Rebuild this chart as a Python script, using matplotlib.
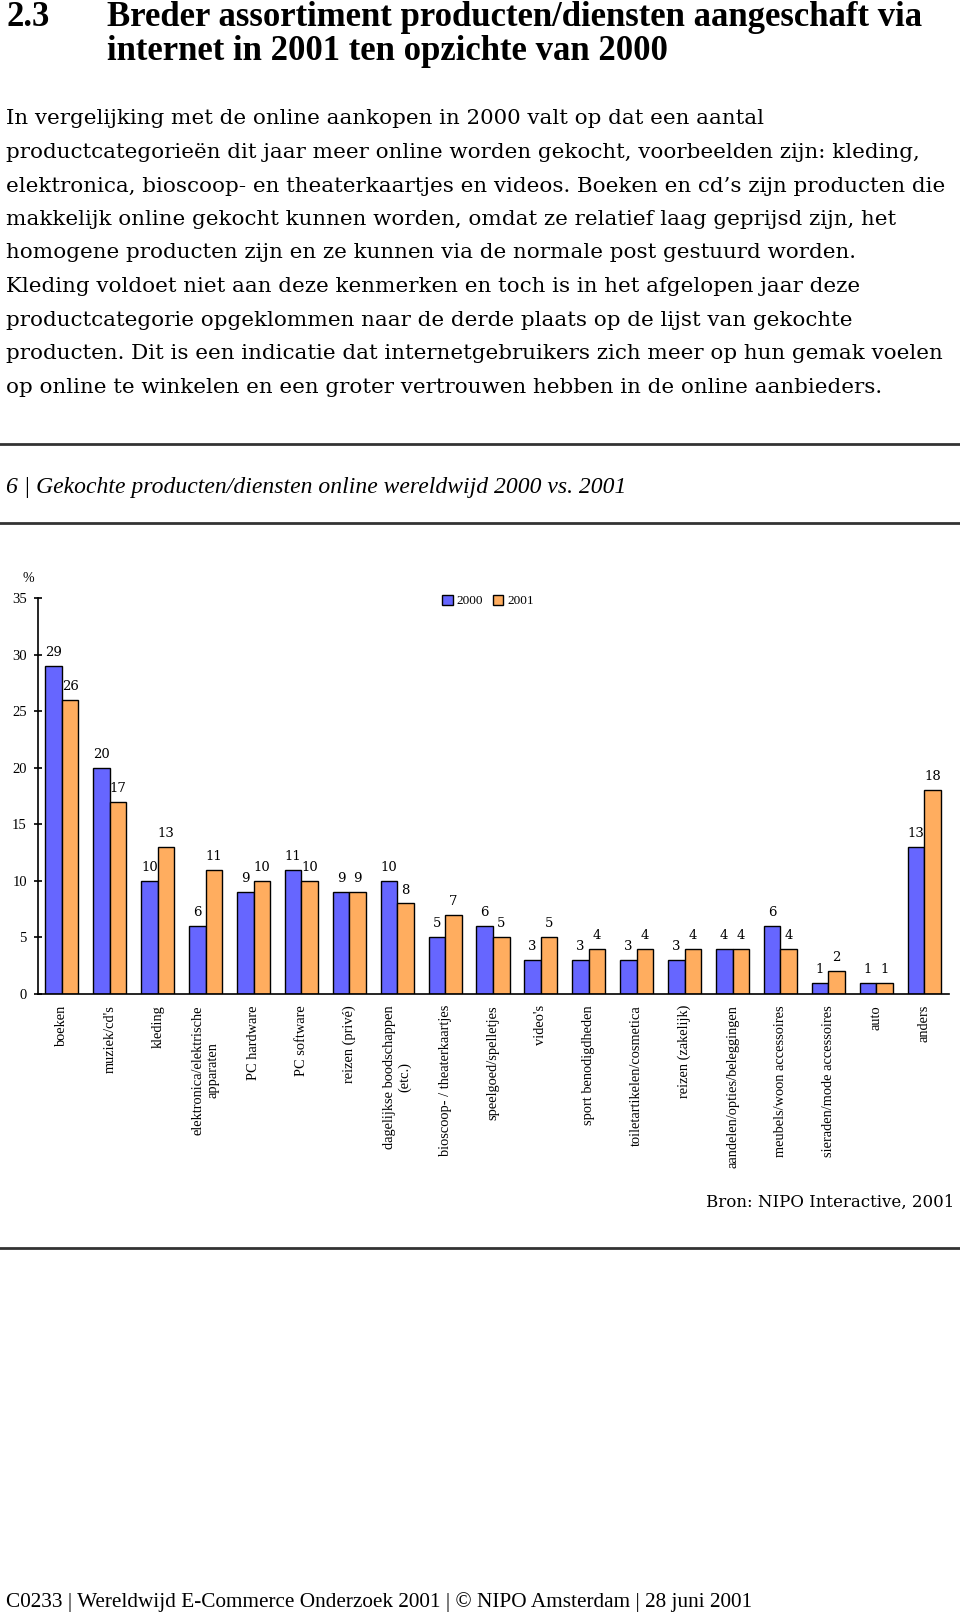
import matplotlib
matplotlib.use('Agg')
import matplotlib.pyplot as plt
from matplotlib.lines import Line2D
import numpy as np

# data
categories = ['boeken', 'muziek/cd\'s', 'kleding', 'elektronica/elektrische\napparaten',
              'PC hardware', 'PC software', 'reizen (privé)', 'dagelijkse boodschappen\n(etc.)',
              'bioscoop- / theaterkaartjes', 'speelgoed/spelletjes', "video's",
              'sport benodigdheden', 'toiletartikelen/cosmetica', 'reizen (zakelijk)',
              'aandelen/opties/beleggingen', 'meubels/woon accessoires',
              'sieraden/mode accessoires', 'auto', 'anders']
vals_2000 = [29, 20, 10, 6, 9, 11, 9, 10, 5, 6, 3, 3, 3, 3, 4, 6, 1, 1, 13]
vals_2001 = [26, 17, 13, 11, 10, 10, 9, 8, 7, 5, 5, 4, 4, 4, 4, 4, 2, 1, 18]
series_names = ['2000', '2001']
yticks = [0, 5, 10, 15, 20, 25, 30, 35]

title_lines = ['Breder assortiment producten/diensten aangeschaft via',
               'internet in 2001 ten opzichte van 2000']
body_lines = [
    'In vergelijking met de online aankopen in 2000 valt op dat een aantal',
    'productcategorieën dit jaar meer online worden gekocht, voorbeelden zijn: kleding,',
    'elektronica, bioscoop- en theaterkaartjes en videos. Boeken en cd\u2019s zijn producten die',
    'makkelijk online gekocht kunnen worden, omdat ze relatief laag geprijsd zijn, het',
    'homogene producten zijn en ze kunnen via de normale post gestuurd worden.',
    'Kleding voldoet niet aan deze kenmerken en toch is in het afgelopen jaar deze',
    'productcategorie opgeklommen naar de derde plaats op de lijst van gekochte',
    'producten. Dit is een indicatie dat internetgebruikers zich meer op hun gemak voelen',
    'op online te winkelen en een groter vertrouwen hebben in de online aanbieders.',
]

W, H = 960, 1617
fig = plt.figure(figsize=(W / 100, H / 100), dpi=100)

def fy(y):
    return 1 - y / H

# page text
fig.text(6 / W, fy(14), '2.3', fontsize=25, fontweight='bold', family='Liberation Serif',
         va='center_baseline')
for i, line in enumerate(title_lines):
    fig.text(107 / W, fy(14 + i * 33.5), line, fontsize=25, fontweight='bold',
             family='Liberation Serif', va='center_baseline')
for i, line in enumerate(body_lines):
    fig.text(6 / W, fy(117 + i * 33.5), line, fontsize=15.4, family='DejaVu Serif',
             va='center_baseline')

for y in [444, 523, 1248]:
    fig.add_artist(Line2D([0, 1], [fy(y), fy(y)], color='#333333', lw=2))

fig.text(6 / W, fy(488), '6 | Gekochte producten/diensten online wereldwijd 2000 vs. 2001',
         fontsize=17, style='italic', family='Liberation Serif', va='center')
fig.text(954 / W, fy(1202), 'Bron: NIPO Interactive, 2001', fontsize=12,
         family='DejaVu Serif', ha='right', va='center')
fig.text(6 / W, fy(1602), 'C0233 | Wereldwijd E-Commerce Onderzoek 2001 | © NIPO Amsterdam | 28 juni 2001',
         fontsize=15.3, family='Liberation Serif', va='center')
fig.text(28 / W, fy(578), '%', fontsize=10, family='Liberation Serif', ha='center', va='center')

# chart
ax = fig.add_axes([38 / W, 623 / H, 911 / W, 396 / H])
x = np.arange(len(categories))
bw = 0.345
b1 = ax.bar(x - bw / 2, vals_2000, bw, color='#6666ff', edgecolor='black', lw=1, label=series_names[0])
b2 = ax.bar(x + bw / 2, vals_2001, bw, color='#ffad5f', edgecolor='black', lw=1, label=series_names[1])
for bars in (b1, b2):
    ax.bar_label(bars, padding=5, fontsize=9.5, family='DejaVu Serif')

ax.set_xlim(-0.5, len(categories) - 0.48)
ax.set_ylim(0, 35)
ax.set_yticks(yticks)
ax.set_yticklabels([str(t) for t in yticks], family='Liberation Serif', fontsize=10.5)
ax.tick_params(axis='y', direction='inout', length=6, width=1.2, pad=5)
ax.set_xticks(x)
ax.set_xticklabels(categories, rotation=90, va='top', ha='center', multialignment='center',
                   family='Liberation Serif', fontsize=10.4)
ax.tick_params(axis='x', length=0, pad=8)
for s in ['top', 'right']:
    ax.spines[s].set_visible(False)
ax.spines['left'].set_linewidth(1.2)
ax.spines['bottom'].set_linewidth(1.2)
ax.patch.set_alpha(0)

fig.legend(loc='center', bbox_to_anchor=(488 / W, fy(601)), ncol=2, frameon=False,
           handlelength=0.8, handleheight=0.8, handletextpad=0.3,
           columnspacing=0.7, prop={'family': 'Liberation Serif', 'size': 9.5})

fig.savefig('out.png', dpi=100)
